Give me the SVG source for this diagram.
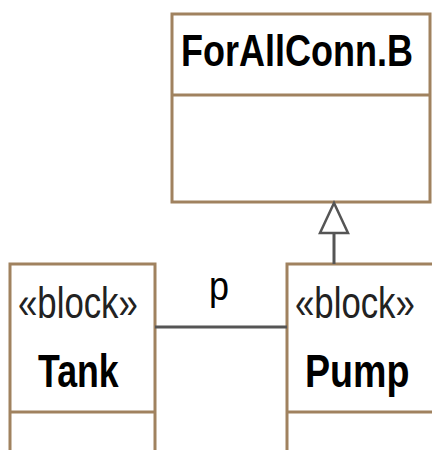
<svg xmlns="http://www.w3.org/2000/svg" width="432" height="450" viewBox="0 0 432 450">
<style>
.box{fill:#fff;stroke:#a0825f;stroke-width:3}
.div{stroke:#a0825f;stroke-width:3}
.t{font-family:"Liberation Sans",Arial,sans-serif;fill:#000}
.b{font-weight:bold}
.st{fill:#222}
.conn{stroke:#555;stroke-width:3;fill:none}
</style>
<rect width="432" height="450" fill="#fff"/>
<g id="ForAllConnB">
<rect class="box" x="172" y="14" width="258" height="188"/>
<line class="div" x1="172" y1="95" x2="430" y2="95"/>
<text class="t b" transform="translate(181,66) scale(0.8,1)" font-size="45">ForAllConn.B</text>
</g>
<g id="Tank">
<rect class="box" x="10" y="264" width="145" height="200"/>
<line class="div" x1="10" y1="412" x2="155" y2="412"/>
<text class="t st" transform="translate(18,318) scale(0.79,1)" font-size="44">«block»</text>
<text class="t b" transform="translate(38,387) scale(0.76,1)" font-size="47">Tank</text>
</g>
<g id="Pump">
<rect class="box" x="287" y="264" width="160" height="200"/>
<line class="div" x1="287" y1="412" x2="447" y2="412"/>
<text class="t st" transform="translate(295,318) scale(0.79,1)" font-size="44">«block»</text>
<text class="t b" transform="translate(305,387) scale(0.8,1)" font-size="47">Pump</text>
</g>
<g id="connectors">
<line class="conn" x1="155" y1="327" x2="287" y2="327"/>
<text class="t" transform="translate(209,300) scale(0.9,1)" font-size="40">p</text>
<line class="conn" x1="334" y1="233" x2="334" y2="264"/>
<polygon points="334,203 320,233 348,233" fill="#fff" stroke="#555" stroke-width="2.5"/>
</g>
</svg>
